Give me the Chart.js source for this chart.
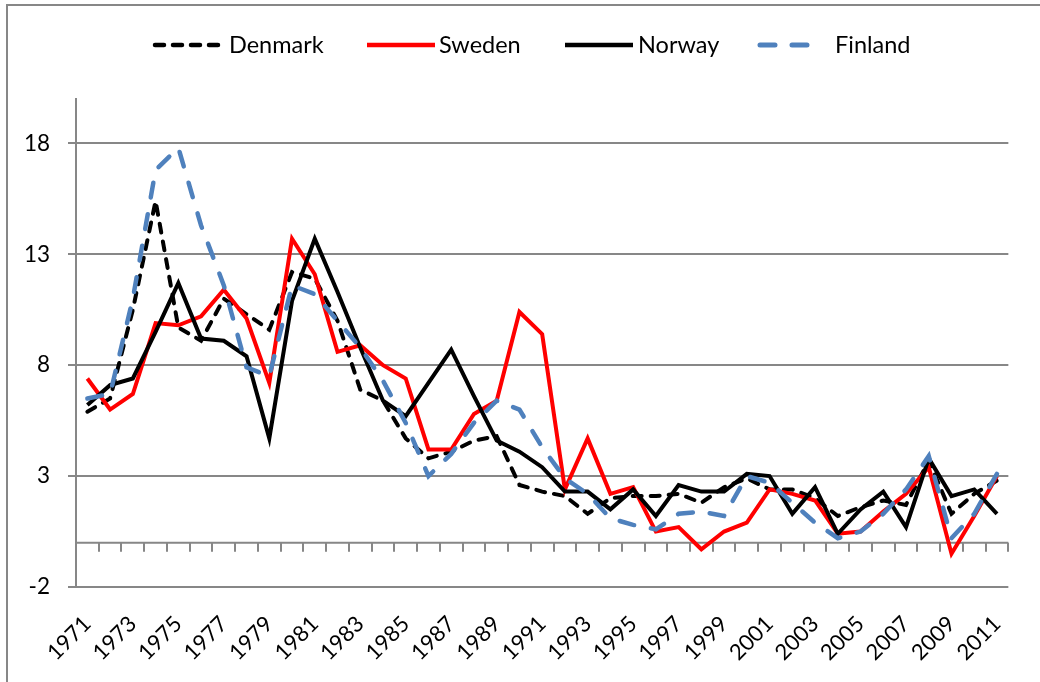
<!DOCTYPE html>
<html>
<head>
<meta charset="utf-8">
<script src="https://cdn.jsdelivr.net/npm/chart.js@4.4.1/dist/chart.umd.min.js"></script>
<style>
  html, body { margin: 0; padding: 0; background: #fff; }
  #wrap { position: relative; width: 1040px; height: 682px; }
</style>
</head>
<body>
<div id="wrap"><canvas id="inflation_chart"></canvas></div>
<script>
var years = ["1971","1972","1973","1974","1975","1976","1977","1978","1979","1980",
             "1981","1982","1983","1984","1985","1986","1987","1988","1989","1990",
             "1991","1992","1993","1994","1995","1996","1997","1998","1999","2000",
             "2001","2002","2003","2004","2005","2006","2007","2008","2009","2010","2011"];

var denmark = [5.9, 6.5, 10.5, 15.4, 9.7, 9.1, 11.0, 10.3, 9.6, 12.2,
               11.9, 10.0, 6.9, 6.4, 4.7, 3.8, 4.1, 4.6, 4.8, 2.6,
               2.3, 2.1, 1.3, 2.0, 2.1, 2.1, 2.2, 1.8, 2.5, 2.9,
               2.4, 2.4, 2.0, 1.2, 1.6, 1.9, 1.7, 3.7, 1.3, 2.2, 2.8];

var sweden = [7.4, 6.0, 6.7, 9.9, 9.8, 10.2, 11.4, 10.1, 7.2, 13.7,
              12.1, 8.6, 8.9, 8.0, 7.4, 4.2, 4.2, 5.8, 6.4, 10.4,
              9.4, 2.4, 4.7, 2.2, 2.5, 0.5, 0.7, -0.3, 0.5, 0.9,
              2.4, 2.2, 1.9, 0.4, 0.5, 1.4, 2.2, 3.4, -0.5, 1.2, 3.0];

var norway = [6.2, 7.1, 7.4, 9.5, 11.7, 9.2, 9.1, 8.4, 4.7, 10.9,
              13.7, 11.3, 8.8, 6.4, 5.7, 7.2, 8.7, 6.6, 4.6, 4.1,
              3.4, 2.3, 2.3, 1.5, 2.4, 1.2, 2.6, 2.3, 2.3, 3.1,
              3.0, 1.3, 2.5, 0.4, 1.5, 2.3, 0.7, 3.8, 2.1, 2.4, 1.3];

var finland = [6.5, 6.7, 11.0, 16.8, 17.8, 14.3, 11.6, 7.9, 7.5, 11.6,
               11.2, 10.0, 8.8, 7.3, 5.4, 3.0, 4.0, 5.4, 6.4, 6.0,
               4.3, 2.9, 2.2, 1.1, 0.8, 0.6, 1.3, 1.4, 1.2, 3.0,
               2.7, 1.8, 0.9, 0.2, 0.5, 1.3, 2.4, 3.9, 0.2, 1.3, 3.1];

var yTicks = [-2, 3, 8, 13, 18];

var FONT = "Lato, 'Liberation Sans', sans-serif";
var GRID = "#878787";

// frame, axis at zero with its tick marks, and the top legend
var extras = {
  id: "extras",
  beforeDatasetsDraw: function(chart) {
    var ctx = chart.ctx;
    var x = chart.scales.x, y = chart.scales.y;
    var y0 = y.getPixelForValue(0);
    var n = chart.data.labels.length;
    var step = (x.right - x.left) / n;
    ctx.save();
    ctx.strokeStyle = GRID;
    ctx.lineWidth = 2;
    ctx.beginPath();
    ctx.moveTo(x.left, y0);
    ctx.lineTo(x.right, y0);
    for (var i = 1; i <= n; i++) {
      var px = Math.round(x.left + i * step);
      ctx.moveTo(px, y0);
      ctx.lineTo(px, y0 + 9);
    }
    ctx.stroke();
    ctx.restore();
  },
  afterDraw: function(chart) {
    var ctx = chart.ctx;
    ctx.save();
    ctx.strokeStyle = GRID;
    ctx.lineWidth = 2;
    ctx.beginPath();
    ctx.moveTo(7, 682);
    ctx.lineTo(7, 5);
    ctx.lineTo(1040, 5);
    ctx.stroke();

    var items = [
      { ds: 0, x1: 155, x2: 221, tx: 229 },
      { ds: 1, x1: 367, x2: 435, tx: 439 },
      { ds: 2, x1: 565, x2: 633, tx: 638 },
      { ds: 3, x1: 760, x2: 811, tx: 835 }
    ];
    var ly = 45;
    ctx.font = "23.5px " + FONT;
    ctx.textBaseline = "middle";
    ctx.fillStyle = "#000";
    items.forEach(function(it) {
      var d = chart.data.datasets[it.ds];
      ctx.save();
      ctx.strokeStyle = d.borderColor;
      ctx.lineWidth = d.borderWidth + 0.5;
      ctx.lineCap = d.borderCapStyle || "butt";
      ctx.setLineDash(d.borderDash || []);
      ctx.beginPath();
      ctx.moveTo(it.x1, ly);
      ctx.lineTo(it.x2, ly);
      ctx.stroke();
      ctx.restore();
      ctx.fillText(d.label, it.tx, ly);
    });
    ctx.restore();
  }
};

var ctx = document.getElementById("inflation_chart").getContext("2d");
var chart = new Chart(ctx, {
  type: "line",
  data: {
    labels: years,
    datasets: [
      { label: "Denmark", data: denmark, borderColor: "#000000", borderWidth: 4,
        borderDash: [9, 9], borderCapStyle: "round", order: 4 },
      { label: "Sweden", data: sweden, borderColor: "#ff0000", borderWidth: 4, order: 3 },
      { label: "Norway", data: norway, borderColor: "#000000", borderWidth: 4, order: 2 },
      { label: "Finland", data: finland, borderColor: "#4f81bd", borderWidth: 4.5,
        borderDash: [15, 17], borderCapStyle: "round", order: 1 }
    ]
  },
  options: {
    responsive: true,
    maintainAspectRatio: false,
    animation: false,
    layout: { padding: { top: 99, left: 8, right: 29, bottom: 0 } },
    elements: {
      point: { radius: 0, hoverRadius: 0 },
      line: { tension: 0, fill: false, borderJoinStyle: "miter" }
    },
    plugins: {
      legend: { display: false },
      tooltip: { enabled: false }
    },
    scales: {
      x: {
        offset: true,
        grid: { display: false, drawTicks: false },
        border: { display: false },
        afterFit: function(scale) { scale.height = 95; },
        ticks: {
          autoSkip: false,
          minRotation: 45,
          maxRotation: 45,
          padding: 24,
          color: "#000",
          font: { family: FONT, size: 22 },
          callback: function(val, i) { return i % 2 === 0 ? this.getLabelForValue(val) : ""; }
        }
      },
      y: {
        min: -2,
        max: 20,
        afterBuildTicks: function(scale) {
          scale.ticks = yTicks.map(function(v) { return { value: v }; });
        },
        afterFit: function(scale) { scale.width = 68; },
        grid: { color: GRID, lineWidth: 2, tickLength: 8 },
        border: { display: true, color: GRID, width: 2 },
        ticks: {
          padding: 18,
          color: "#000",
          font: { family: FONT, size: 22.5 }
        }
      }
    }
  },
  plugins: [extras]
});
</script>
</body>
</html>
